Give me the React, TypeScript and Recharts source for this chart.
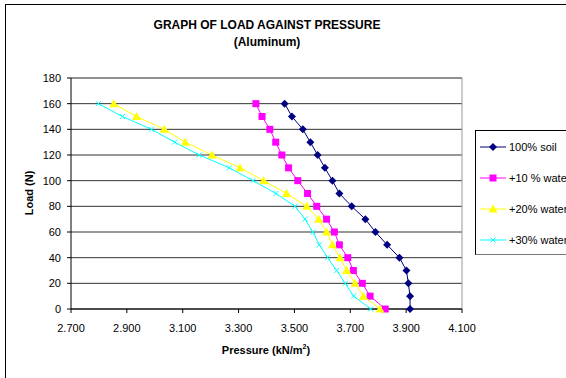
import React from 'react';
import { CartesianGrid, ReferenceLine, Scatter, ScatterChart, XAxis, YAxis } from 'recharts';

// Load steps (N)
const loads = [0, 10, 20, 30, 40, 50, 60, 70, 80, 90, 100, 110, 120, 130, 140, 150, 160];

// Pressure (kN/m2) for each load step
const soil100 = [3.914, 3.914, 3.908, 3.901, 3.876, 3.832, 3.79, 3.754, 3.705, 3.661, 3.636, 3.609, 3.583, 3.557, 3.53, 3.491, 3.465];
const water10 = [3.825, 3.771, 3.743, 3.711, 3.691, 3.661, 3.643, 3.615, 3.58, 3.547, 3.512, 3.479, 3.455, 3.433, 3.412, 3.384, 3.362];
const water20 = [3.806, 3.747, 3.717, 3.687, 3.663, 3.636, 3.615, 3.587, 3.544, 3.472, 3.39, 3.305, 3.205, 3.109, 3.034, 2.935, 2.853];
const water30 = [3.773, 3.712, 3.682, 3.651, 3.619, 3.589, 3.566, 3.538, 3.502, 3.434, 3.352, 3.267, 3.159, 3.071, 2.988, 2.884, 2.798];

const xTicks = [2.7, 2.9, 3.1, 3.3, 3.5, 3.7, 3.9, 4.1];
const yTicks = [0, 20, 40, 60, 80, 100, 120, 140, 160, 180];

const toPoints = (vals: number[]) => loads.map((load, i) => ({ pressure: vals[i], load }));

const font = '"Liberation Sans", Arial, sans-serif';

const Diamond = (p: any) => (
  <polygon
    points={`${p.cx},${p.cy - 4} ${p.cx + 4},${p.cy} ${p.cx},${p.cy + 4} ${p.cx - 4},${p.cy}`}
    fill="#000080"
  />
);
const Square = (p: any) => <rect x={p.cx - 3.5} y={p.cy - 3.5} width={7} height={7} fill="#FF00FF" />;
const Triangle = (p: any) => (
  <polygon
    points={`${p.cx},${p.cy - 4.5} ${p.cx + 4.5},${p.cy + 3.5} ${p.cx - 4.5},${p.cy + 3.5}`}
    fill="#FFFF00"
  />
);
const Cross = (p: any) => (
  <g stroke="#00FFFF" strokeWidth={1}>
    <line x1={p.cx - 2.5} y1={p.cy - 2.5} x2={p.cx + 2.5} y2={p.cy + 2.5} />
    <line x1={p.cx - 2.5} y1={p.cy + 2.5} x2={p.cx + 2.5} y2={p.cy - 2.5} />
  </g>
);

const series = [
  { name: '100% soil', color: '#000080', data: toPoints(soil100), shape: Diamond },
  { name: '+10 % water', color: '#FF00FF', data: toPoints(water10), shape: Square },
  { name: '+20% water', color: '#FFFF00', data: toPoints(water20), shape: Triangle },
  { name: '+30% water', color: '#00FFFF', data: toPoints(water30), shape: Cross },
];

const LegendBox = () => (
  <div
    style={{
      position: 'absolute',
      left: 475,
      top: 130,
      width: 110,
      height: 125,
      borderTop: '1px solid #000',
      borderLeft: '1px solid #000',
      borderBottom: '1px solid #777',
      background: '#fff',
      fontFamily: font,
      fontSize: 11,
      color: '#000',
      boxSizing: 'border-box',
    }}
  >
    {series.map((s) => {
      const Shape = s.shape;
      return (
        <div key={s.name} style={{ height: 31, display: 'flex', alignItems: 'center', whiteSpace: 'nowrap' }}>
          <svg width={31} height={12} style={{ flexShrink: 0 }}>
            <line x1={4} y1={6} x2={30} y2={6} stroke={s.color} strokeWidth={1} />
            <Shape cx={17} cy={6} />
          </svg>
          <span style={{ marginLeft: 2 }}>{s.name}</span>
        </div>
      );
    })}
  </div>
);

export default function App() {
  return (
    <div
      style={{
        position: 'absolute',
        left: 0,
        top: 0,
        width: 566,
        height: 378,
        overflow: 'hidden',
        background: '#fff',
        fontFamily: font,
      }}
    >
      <div
        style={{
          position: 'absolute',
          left: 5,
          top: 4,
          width: 620,
          height: 420,
          border: '1px solid #000',
        }}
      />
      <div
        style={{
          position: 'absolute',
          left: 0,
          width: 534,
          top: 17,
          textAlign: 'center',
          fontWeight: 'bold',
          fontSize: 12,
          lineHeight: '17px',
        }}
      >
        GRAPH OF LOAD AGAINST PRESSURE
        <br />
        (Aluminum)
      </div>
      <ScatterChart width={566} height={378} margin={{ top: 78, right: 104, bottom: 29, left: 31 }}>
        <CartesianGrid vertical={false} stroke="#333" strokeWidth={1} />
        <XAxis
          type="number"
          dataKey="pressure"
          domain={[2.7, 4.1]}
          ticks={xTicks}
          tickFormatter={(v: number) => v.toFixed(3)}
          height={40}
          tickSize={4}
          tickMargin={11}
          axisLine={{ stroke: '#000' }}
          tickLine={{ stroke: '#000' }}
          tick={{ fill: '#000', fontSize: 11, fontFamily: font }}
          allowDataOverflow
        />
        <YAxis
          type="number"
          dataKey="load"
          domain={[0, 180]}
          ticks={yTicks}
          width={40}
          tickSize={4}
          tickMargin={6}
          axisLine={{ stroke: '#000' }}
          tickLine={{ stroke: '#000' }}
          tick={{ fill: '#000', fontSize: 11, fontFamily: font }}
        />
        <ReferenceLine x={4.1} stroke="#999" />
        <ReferenceLine y={180} stroke="#888" />
        {series.map((s) => (
          <Scatter
            key={s.name}
            name={s.name}
            data={s.data}
            fill={s.color}
            line={{ stroke: s.color, strokeWidth: 1 }}
            lineType="joint"
            shape={s.shape}
            isAnimationActive={false}
          />
        ))}
      </ScatterChart>
      <LegendBox />
      <div
        style={{
          position: 'absolute',
          left: 29,
          top: 193,
          transform: 'translate(-50%, -50%) rotate(-90deg)',
          fontWeight: 'bold',
          fontSize: 11,
          whiteSpace: 'nowrap',
        }}
      >
        Load (N)
      </div>
      <div
        style={{
          position: 'absolute',
          left: 0,
          width: 532,
          top: 343,
          textAlign: 'center',
          fontWeight: 'bold',
          fontSize: 11,
        }}
      >
        Pressure (kN/m<sup style={{ fontSize: 7 }}>2</sup>)
      </div>
    </div>
  );
}
